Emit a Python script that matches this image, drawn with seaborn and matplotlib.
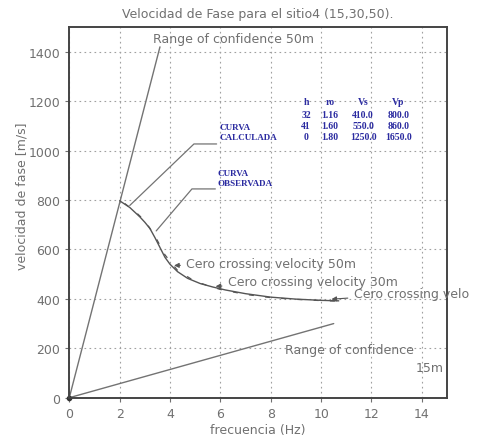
import matplotlib
matplotlib.use("Agg")
import matplotlib.pyplot as plt
import seaborn as sns
import pandas as pd

# Phase-velocity dispersion data (frequency in Hz, velocity in m/s)
freq_calc = [2.0, 2.4, 2.8, 3.0, 3.2, 3.4, 3.6, 3.8, 4.0, 4.3, 4.7, 5.2, 5.7,
             6.2, 7.0, 8.0, 9.0, 10.0, 10.7]
vel_calc = [797, 770, 732, 710, 685, 648, 608, 568, 540, 510, 483, 462, 448,
            436, 421, 407, 399, 394, 392]

freq_obs = [2.2, 2.6, 3.0, 3.4, 3.8, 4.3, 5.0, 6.0, 7.0, 8.0, 9.0, 10.0, 10.6]
vel_obs = [786, 755, 716, 655, 578, 515, 470, 438, 418, 405, 398, 393, 391]

# Confidence limits (straight lines from the origin)
conf50_f = [0.0, 3.6]
conf50_v = [0, 1420]
conf15_f = [0.0, 10.5]
conf15_v = [0, 300]

# Layer model table
col_h = ["32", "41", "0"]
col_ro = ["1.16", "1.60", "1.80"]
col_vs = ["410.0", "550.0", "1250.0"]
col_vp = ["800.0", "860.0", "1650.0"]

x_ticks = [0, 2, 4, 6, 8, 10, 12, 14]
y_ticks = [0, 200, 400, 600, 800, 1000, 1200, 1400]

sns.set_style("white")
plt.rcParams["font.family"] = ["DejaVu Sans"]

grey_txt = "#707070"
line_c = "#737373"
curve_c = "#555555"
navy = "#2a2aa0"

fig = plt.figure(figsize=(4.83, 4.39), dpi=100)
ax = fig.add_axes([0.1435, 0.0918, 0.782, 0.8442])

df_calc = pd.DataFrame({"f": freq_calc, "v": vel_calc})
df_obs = pd.DataFrame({"f": freq_obs, "v": vel_obs})
df_c50 = pd.DataFrame({"f": conf50_f, "v": conf50_v})
df_c15 = pd.DataFrame({"f": conf15_f, "v": conf15_v})

sns.lineplot(data=df_c50, x="f", y="v", ax=ax, color=line_c, lw=1.0, sort=False)
sns.lineplot(data=df_c15, x="f", y="v", ax=ax, color=line_c, lw=1.0, sort=False)
sns.lineplot(data=df_obs, x="f", y="v", ax=ax, color=curve_c, lw=0.9,
             linestyle=(0, (4, 9)), sort=False)
sns.lineplot(data=df_calc, x="f", y="v", ax=ax, color=curve_c, lw=1.0, sort=False)

ax.plot([0], [0], "o", color="#333333", ms=3, clip_on=False)

ax.set_xlim(0, 15)
ax.set_ylim(0, 1500)
ax.set_xticks(x_ticks)
ax.set_yticks(y_ticks)
ax.grid(True, color="#a0a0a0", linestyle=(0, (1.5, 3)), lw=0.8)
for s in ax.spines.values():
    s.set_color("#444444")
    s.set_linewidth(1.4)
ax.tick_params(axis="both", colors=grey_txt, labelsize=9, length=3, width=0.8,
               direction="out", left=True, bottom=True, labelcolor=grey_txt)

ax.set_xlabel("frecuencia (Hz)", color=grey_txt, fontsize=9, labelpad=2)
ax.set_ylabel("velocidad de fase [m/s]", color=grey_txt, fontsize=9)
ax.yaxis.set_label_coords(-0.108, 0.545)
ax.set_title("Velocidad de Fase para el sitio4 (15,30,50).", color=grey_txt,
             fontsize=9, pad=7)

txt = dict(color=grey_txt, fontsize=9)
ax.text(3.32, 1452, "Range of confidence 50m", ha="left", va="center", **txt)
ax.text(8.55, 195, "Range of confidence", ha="left", va="center", **txt)
ax.text(14.85, 122, "15m", ha="right", va="center", **txt)

arrow = dict(arrowstyle="-|>", color=curve_c, lw=0.8, mutation_scale=7)
ax.annotate("Cero crossing velocity 50m", xy=(4.05, 535), xytext=(4.65, 542),
            ha="left", va="center", arrowprops=arrow, **txt)
ax.annotate("Cero crossing velocity 30m", xy=(5.7, 450), xytext=(6.3, 472),
            ha="left", va="center", arrowprops=arrow, **txt)
ax.annotate("Cero crossing velo", xy=(10.3, 398), xytext=(11.3, 420),
            ha="left", va="center", arrowprops=arrow, annotation_clip=False,
            **txt)

# Leader lines to the curve labels
ax.plot([2.4, 4.95, 5.85], [778, 1027, 1027], color=line_c, lw=0.9)
ax.plot([3.45, 4.87, 5.8], [675, 845, 845], color=line_c, lw=0.9)

lab = dict(color=navy, fontsize=6.5, fontweight="bold", family="Liberation Serif",
           ha="left", va="center")
ax.text(5.95, 1097, "CURVA", **lab)
ax.text(5.95, 1055, "CALCULADA", **lab)
ax.text(5.9, 911, "CURVA", **lab)
ax.text(5.9, 870, "OBSERVADA", **lab)

# Layer model table
tab = dict(color=navy, fontsize=7, fontweight="bold", family="Liberation Serif",
           ha="center", va="center")
col_x = [9.4, 10.36, 11.67, 13.06]
headers = ["h", "ro", "Vs", "Vp"]
row_y = [1145, 1101, 1056]
for cx, hd in zip(col_x, headers):
    ax.text(cx, 1199, hd, **tab)
for ry, a, b, c, d in zip(row_y, col_h, col_ro, col_vs, col_vp):
    for cx, val in zip(col_x, [a, b, c, d]):
        ax.text(cx, ry, val, **tab)

fig.savefig("out.png", dpi=100)
